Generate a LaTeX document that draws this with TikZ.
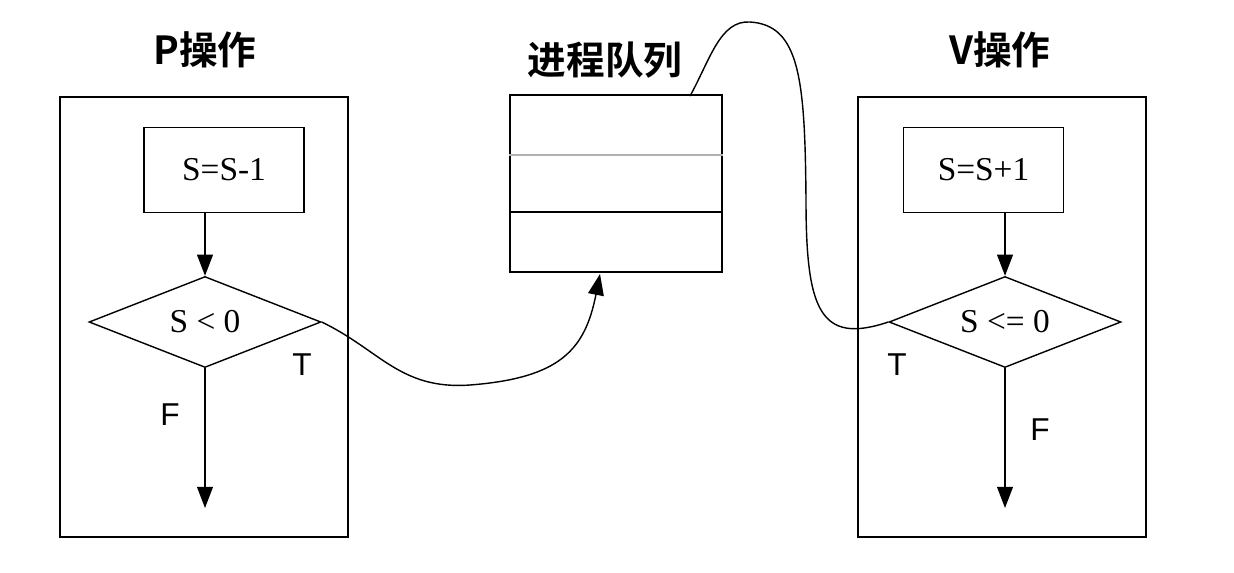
\documentclass[tikz,border=0pt]{standalone}
\usepackage{fontspec}
\setmainfont{Liberation Serif}
\newfontfamily\cjk{Noto Sans CJK SC}[BoldFont={Noto Sans CJK SC Bold}]
\newfontfamily\lab{Liberation Sans}
\usetikzlibrary{shapes.geometric,arrows.meta,positioning}
\tikzset{
  opbox/.style={draw,minimum width=5.76cm,minimum height=8.8cm},
  stepbox/.style={draw,minimum width=3.2cm,minimum height=1.7cm,font=\fontsize{19}{19}\selectfont},
  test/.style={draw,diamond,aspect=2.55,minimum width=4.64cm,minimum height=1.82cm,inner sep=0pt,font=\fontsize{19}{19}\selectfont},
  title/.style={font=\cjk\bfseries\fontsize{22}{22}\selectfont},
  tf/.style={font=\lab\fontsize{18}{18}\selectfont},
  flow/.style={-{Triangle[length=12pt,width=9pt]}}
}
\begin{document}
\begin{tikzpicture}[x=0.02cm,y=-0.02cm,line width=0.8pt]
\useasboundingbox (0,0) rectangle (1234,572);

%% P operation
\node[opbox] (pbox) at (204,317) {};
\node[title] (ptitle) at (205,50) {P操作};
\node[stepbox] (pdec) at (224,170) {S=S-1};
\node[test] (ptest) at (205,322) {S < 0};
\coordinate (pend) at (205,508);
\node[tf] (pt) at (302,365) {T};
\node[tf] (pf) at (170,415) {F};
\draw[flow] (205,213) -- (ptest.north);
\draw[flow] (ptest.south) -- (pend);

%% queue
\node[title] (qtitle) at (605,60) {进程队列};
\node[draw,minimum width=4.24cm,minimum height=3.54cm] (queue) at (616,183.5) {};
\draw[gray!60] (queue.west |- 0,155) -- (queue.east |- 0,155);
\draw (queue.west |- 0,212) -- (queue.east |- 0,212);
\coordinate (qin) at (600,274);
\coordinate (qout) at (690,96);

%% V operation
\node[opbox] (vbox) at (1002,317) {};
\node[title] (vtitle) at (1000,50) {V操作};
\node[stepbox] (vinc) at (983.5,170) {S=S+1};
\node[test] (vtest) at (1005,322) {S <= 0};
\coordinate (vend) at (1005,508);
\node[tf] (vt) at (897,365) {T};
\node[tf] (vf) at (1040,430) {F};
\draw[flow] (1005,213) -- (vtest.north);
\draw[flow] (vtest.south) -- (vend);

%% links
\draw[flow] (ptest.east) .. controls (380,350) and (400,390) .. (470,385)
  .. controls (560,378) and (585,350) .. (qin);
\draw (qout) .. controls (710,60) and (720,20) .. (750,22)
  .. controls (800,25) and (805,80) .. (806,200)
  .. controls (806,310) and (820,345) .. (vtest.west);
\end{tikzpicture}
\end{document}
